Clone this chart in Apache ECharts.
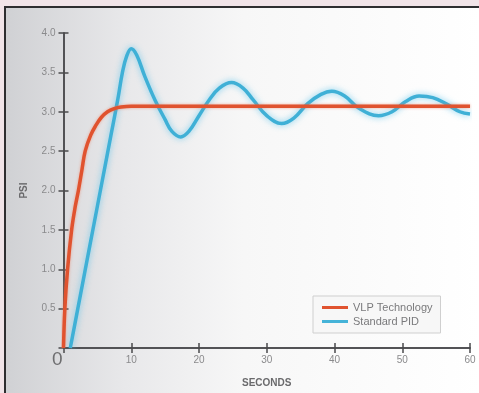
<!DOCTYPE html>
<html>
<head>
<meta charset="utf-8">
<script src="https://cdn.jsdelivr.net/npm/echarts@6/dist/echarts.min.js"></script>
<style>
  html, body { margin: 0; padding: 0; width: 479px; height: 393px; background: #f1e4e8; overflow: hidden; }
  #frame {
    position: absolute; left: 4px; top: 6px; width: 475px; height: 387px;
    border-left: 2px solid #2e2e30; border-top: 2px solid #2e2e30;
    background: linear-gradient(to right, #d0d1d4 0%, #e8e8ea 25%, #f7f7f7 50%, #ffffff 100%);
  }
  #main { position: absolute; left: 0; top: 0; width: 479px; height: 393px; }
</style>
</head>
<body>
<div id="frame"></div>
<div id="main"></div>
<script>
// seconds / psi pairs
const vlpTime = [0, 0.2, 0.6, 1.2, 1.7, 2.2, 2.7, 3.2, 4.0, 4.8, 5.6, 6.5, 7.5, 8.5, 10, 20, 30, 40, 50, 60];
const vlpPsi  = [0, 0.5, 1.0, 1.5, 1.78, 2.0, 2.25, 2.5, 2.7, 2.83, 2.93, 3.0, 3.04, 3.06, 3.07, 3.07, 3.07, 3.07, 3.07, 3.07];

const pidTime = [1, 2, 3, 4, 5, 6, 7, 8, 8.7, 9.3, 10, 10.8, 12, 13.5, 15, 16, 17.3, 18.5, 20, 21.5, 23, 24.8, 26.5, 28, 30, 32.2, 34, 36, 38, 39.6, 41.5, 43.5, 46.5, 48.5, 50.5, 52.5, 54.5, 56.5, 58.5, 60];
const pidPsi  = [0, 0.45, 0.9, 1.35, 1.8, 2.25, 2.7, 3.15, 3.5, 3.7, 3.8, 3.72, 3.45, 3.15, 2.9, 2.75, 2.68, 2.75, 2.95, 3.15, 3.3, 3.37, 3.3, 3.15, 2.95, 2.85, 2.92, 3.1, 3.22, 3.26, 3.2, 3.05, 2.95, 3.0, 3.13, 3.2, 3.18, 3.1, 3.0, 2.97];

const xTicks = [0, 10, 20, 30, 40, 50, 60];
const yTicks = [0, 0.5, 1.0, 1.5, 2.0, 2.5, 3.0, 3.5, 4.0];

const chart = echarts.init(document.getElementById('main'));

const zip = (a, b) => a.map((v, i) => [v, b[i]]);
const axisLine = { show: true, lineStyle: { color: '#4a4a4c', width: 1.5 } };
const tick = { show: true, inside: true, length: 5, lineStyle: { color: '#4a4a4c', width: 1.5 } };
const labelStyle = { color: '#8a8a8c', fontSize: 10, fontFamily: 'Liberation Sans' };
const nameStyle = { color: '#6a6a6c', fontSize: 10, fontWeight: 'bold', fontFamily: 'Liberation Sans' };

chart.setOption({
  backgroundColor: 'transparent',
  animation: false,
  grid: { left: 63.5, right: 9, top: 33, bottom: 41 },
  legend: {
    orient: 'vertical',
    left: 313, top: 296,
    padding: [6, 8, 6, 9],
    itemGap: 3,
    itemWidth: 26, itemHeight: 3,
    icon: 'rect',
    backgroundColor: 'rgba(246,246,246,0.9)',
    borderColor: '#cfcfcf', borderWidth: 1,
    textStyle: { color: '#7a7a7c', fontSize: 11, fontFamily: 'Liberation Sans' },
    data: ['VLP Technology', 'Standard PID']
  },
  xAxis: [{
    type: 'value', min: 0, max: 60, interval: 10,
    name: 'SECONDS', nameLocation: 'middle', nameGap: 30, nameTextStyle: nameStyle,
    axisLine: axisLine, axisTick: tick, splitLine: { show: false },
    axisLabel: Object.assign({ margin: 7, formatter: v => (v === 0 ? '' : String(v)) }, labelStyle)
  }, {
    type: 'value', min: 0, max: 60, interval: 10, position: 'top',
    axisLine: axisLine, axisTick: tick, splitLine: { show: false }, axisLabel: { show: false }
  }],
  yAxis: [{
    type: 'value', min: 0, max: 4, interval: 0.5,
    name: 'PSI', nameLocation: 'middle', nameGap: 34, nameTextStyle: nameStyle,
    axisLine: axisLine, axisTick: tick, splitLine: { show: false },
    axisLabel: Object.assign({ margin: 8, formatter: v => (v === 0 ? '' : v.toFixed(1)) }, labelStyle)
  }, {
    type: 'value', min: 0, max: 4, interval: 0.5, position: 'right',
    axisLine: axisLine, axisTick: tick, splitLine: { show: false }, axisLabel: { show: false }
  }],
  graphic: [{
    type: 'text', left: 52, top: 350,
    style: { text: '0', fill: '#6e6e70', font: '19px Liberation Sans' }
  }],
  series: [{
    name: 'Standard PID', type: 'line', smooth: 0.4, symbol: 'none',
    data: zip(pidTime, pidPsi),
    itemStyle: { color: '#45b3d8' },
    lineStyle: { color: '#3fb0d6', width: 3.5, shadowBlur: 6, shadowColor: 'rgba(90,195,235,0.8)' },
    z: 2
  }, {
    name: 'VLP Technology', type: 'line', smooth: 0.4, symbol: 'none',
    data: zip(vlpTime, vlpPsi),
    itemStyle: { color: '#e0532f' },
    lineStyle: { color: '#e0532f', width: 3.5, shadowBlur: 3, shadowColor: 'rgba(240,120,90,0.6)' },
    z: 3
  }]
});
</script>
</body>
</html>
